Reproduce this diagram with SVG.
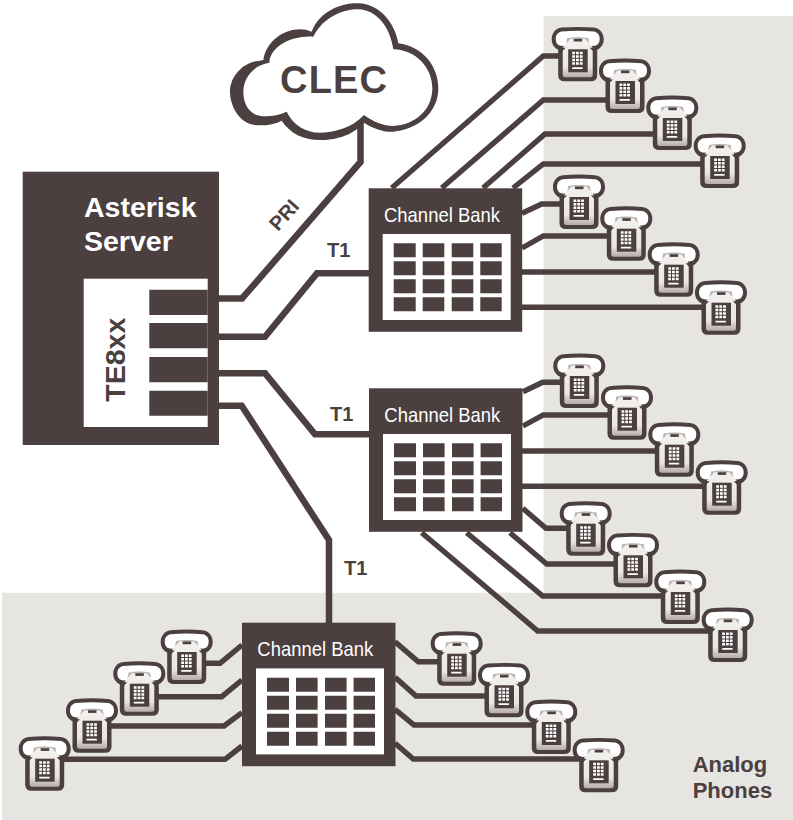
<svg xmlns="http://www.w3.org/2000/svg" width="793" height="820" viewBox="0 0 793 820" font-family="'Liberation Sans', sans-serif">
<style>
.d{fill:#4b3f3f}.w{fill:#fff}
.m{fill:none;stroke:#4b3f3f;stroke-width:6.5;stroke-linejoin:miter}
.p{fill:none;stroke:#4b3f3f;stroke-width:5.4;stroke-linejoin:miter}
.b{font-family:'Liberation Sans',sans-serif;font-weight:bold;fill:#4b3f3f}
.s{font-family:'Liberation Sans',sans-serif;font-weight:bold;fill:#fff;font-size:28.5px}
.c{font-family:'Liberation Sans',sans-serif;fill:#fff;font-size:21px}
</style>
<defs>
<linearGradient id="body" x1="0" y1="0" x2="0" y2="1"><stop offset="0" stop-color="#f4f2f0"/><stop offset=".75" stop-color="#e8e5e2"/><stop offset="1" stop-color="#b5ada8"/></linearGradient>
<g id="phone">
<path class="d" d="M10 .2C20-.6 32-.6 42 .2C48.500 1 52 6 52 12C52 17 49.500 20.500 45.500 22.500V48Q45.500 54 39 54H13Q6.500 54 6.500 48V22.500C2.500 20.500 0 17 0 12C0 6 3.500 1 10 .2Z"/>
<path fill="url(#body)" d="M17 9H35L41 20.500V47.500Q41 50 38.500 50H13.500Q11 50 11 47.500V20.500Z"/>
<path class="d" d="M5 15Q9 21 14 20.500L10.500 24ZM47 15Q43 21 38 20.500L41.500 24Z"/>
<path fill="#fff" d="M10 4.200Q26 2.800 42 4.200C46 4.800 48 8 48 11.500C48 15.500 46.500 17.500 44 18.300C41 19.300 39 18.500 38 16.500Q36.500 13 36.500 11Q26 8.800 15.500 11Q15.500 13 14 16.500C13 18.500 11 19.300 8 18.300C5.500 17.500 4 15.500 4 11.500C4 8 6 4.800 10 4.200Z"/>
<path fill="#b9b3ae" d="M15.500 11Q26 8.800 36.500 11Q36.500 13 38 16L35.500 14L33.500 11.500H18.500L16.500 14L14 16Q15.500 13 15.500 11Z"/>
<rect class="d" x="22" y="11.500" width="8.500" height="2.700"/>
<rect class="d" x="16.500" y="22" width="19.500" height="23"/>
<path fill="#fff" d="M20.500 24.500h2.800v2.500h-2.800zM24.300 24.500h2.800v2.500h-2.800zM28.100 24.500h2.800v2.500h-2.800zM20.500 28h2.800v2.500h-2.800zM24.300 28h2.800v2.500h-2.800zM28.100 28h2.800v2.500h-2.800zM20.500 31.500h2.800v2.500h-2.800zM24.300 31.500h2.800v2.500h-2.800zM28.100 31.500h2.800v2.500h-2.800zM20.500 35h2.800v2.500h-2.800zM24.300 35h2.800v2.500h-2.800zM28.100 35h2.800v2.500h-2.800zM20.500 40h10.400v1.800h-10.400z"/>
</g>
<g id="bank">
<rect class="d" x="0" y="0" width="153.500" height="143.500"/>
<rect class="w" x="14" y="45.700" width="128" height="86"/>
<path class="d" d="M25 55h22v14h-22zM54 55h21.600v14h-21.600zM83 55h21.600v14h-21.600zM111.600 55h21.400v14h-21.400zM25 73h22v14h-22zM54 73h21.600v14h-21.600zM83 73h21.600v14h-21.600zM111.600 73h21.400v14h-21.400zM25 91h22v14h-22zM54 91h21.600v14h-21.600zM83 91h21.600v14h-21.600zM111.600 91h21.400v14h-21.400zM25 109h22v14h-22zM54 109h21.600v14h-21.600zM83 109h21.600v14h-21.600zM111.600 109h21.400v14h-21.400z"/>
</g>
</defs>
<path id="phones-area" fill="#e6e5e1" d="M543.500 16H793V820H2V592.700H543.500Z"/>
<g id="connectors">
<path class="m" d="M219 298.500H242L360.500 162V120"/>
<path class="m" d="M219 336.700H265L317 273.300H369"/>
<path class="m" d="M219 373.300H265L315 434.300H369"/>
<path class="m" d="M219 405.700H241.700L329 540V623"/>
<path class="p" d="M391.700 188L543.300 56H575"/>
<path class="p" d="M441.700 188L543.300 100H610"/>
<path class="p" d="M483 188L545 134H655"/>
<path class="p" d="M513 188L543.300 164H705"/>
<path class="p" d="M522 213.300L541.700 204H560"/>
<path class="p" d="M522 248L543.300 236H610"/>
<path class="p" d="M522 272H655"/>
<path class="p" d="M522 307.300H705"/>
<path class="p" d="M523 391.700L542.700 382.300H565"/>
<path class="p" d="M523 426L543.300 415H610"/>
<path class="p" d="M522 451H655"/>
<path class="p" d="M522 486.300H705"/>
<path class="p" d="M522.700 508.300L546 528.300H570"/>
<path class="p" d="M510 532.700L546.700 564H620"/>
<path class="p" d="M466.700 532.700L542.700 596H665"/>
<path class="p" d="M421.700 532.700L537.700 631H710"/>
<path class="p" d="M242 645L220 663.300H205"/>
<path class="p" d="M242 680L221.700 696.700H155"/>
<path class="p" d="M242 712.700L224 726H110"/>
<path class="p" d="M242 746L225 759.300H60"/>
<path class="p" d="M395 641.700L418.300 661.700H445"/>
<path class="p" d="M395 677.300L416 696H490"/>
<path class="p" d="M395 709.300L414 725H535"/>
<path class="p" d="M395 743.300L413.300 759H585"/>
</g>
<g id="clec-cloud">
<g transform="translate(220 0) scale(.33333)">
<path class="d" d="M130 180C140 110 220 70 275 95C300 30 370 8 415 10C480 12 525 70 535 130C610 140 655 200 655 265C655 340 590 390 520 395C490 397 460 385 432 368C395 410 340 420 300 420C250 420 210 400 185 362C160 375 130 378 105 375C60 370 30 320 30 275C30 225 75 185 115 183Z"/>
<path class="w" d="M148 188C150 140 215 105 280 110C310 50 370 28 415 28C470 30 510 80 520 148C590 150 637 205 637 265C637 330 585 375 520 378C490 378 460 365 432 345C395 385 340 398 300 398C255 398 220 375 200 335C170 350 130 352 110 345C85 335 70 310 70 275C70 235 100 195 148 188Z"/>
</g>
<text class="b" x="280" y="93.300" font-size="38" textLength="107" lengthAdjust="spacing">CLEC</text>
</g>
<g id="asterisk-server">
<rect class="d" x="22.700" y="171.700" width="196.300" height="273.300"/>
<rect class="w" x="83.700" y="278.700" width="124" height="148.300"/>
<path class="d" d="M149.300 289.700H207.700V315H149.300ZM149.300 323H207.700V348.300H149.300ZM149.300 357H207.700V382.300H149.300ZM149.300 390.700H207.700V415.700H149.300Z"/>
<text class="s" x="84" y="217.300">Asterisk</text>
<text class="s" x="84" y="251">Server</text>
<text class="b" font-size="28.500" transform="translate(125 401.700) rotate(-90)">TE8xx</text>
</g>
<g id="channel-bank-1" transform="translate(368.700 188.300)"><use href="#bank"/><text class="c" x="15.300" y="33.400" textLength="116" lengthAdjust="spacingAndGlyphs">Channel Bank</text></g>
<g id="channel-bank-2" transform="translate(369 388.300)"><use href="#bank"/><text class="c" x="15.300" y="33.400" textLength="116" lengthAdjust="spacingAndGlyphs">Channel Bank</text></g>
<g id="channel-bank-3" transform="translate(242 622.700)"><use href="#bank"/><text class="c" x="15.300" y="33.400" textLength="116" lengthAdjust="spacingAndGlyphs">Channel Bank</text></g>
<g id="phone-1" transform="translate(551.700 27.300)"><use href="#phone"/></g>
<g id="phone-2" transform="translate(599 59)"><use href="#phone"/></g>
<g id="phone-3" transform="translate(646.300 96)"><use href="#phone"/></g>
<g id="phone-4" transform="translate(693.700 134)"><use href="#phone"/></g>
<g id="phone-5" transform="translate(553 175)"><use href="#phone"/></g>
<g id="phone-6" transform="translate(600.300 206.700)"><use href="#phone"/></g>
<g id="phone-7" transform="translate(647.700 242.700)"><use href="#phone"/></g>
<g id="phone-8" transform="translate(695 280.700)"><use href="#phone"/></g>
<g id="phone-9" transform="translate(553.300 354)"><use href="#phone"/></g>
<g id="phone-10" transform="translate(601 385.700)"><use href="#phone"/></g>
<g id="phone-11" transform="translate(648.300 422.700)"><use href="#phone"/></g>
<g id="phone-12" transform="translate(695.700 460.700)"><use href="#phone"/></g>
<g id="phone-13" transform="translate(559.700 501.700)"><use href="#phone"/></g>
<g id="phone-14" transform="translate(607 533.300)"><use href="#phone"/></g>
<g id="phone-15" transform="translate(654.300 570)"><use href="#phone"/></g>
<g id="phone-16" transform="translate(701.700 608)"><use href="#phone"/></g>
<g id="phone-17" transform="translate(160.700 630)"><use href="#phone"/></g>
<g id="phone-18" transform="translate(113.300 661.700)"><use href="#phone"/></g>
<g id="phone-19" transform="translate(66 698.700)"><use href="#phone"/></g>
<g id="phone-20" transform="translate(18.700 736.700)"><use href="#phone"/></g>
<g id="phone-21" transform="translate(430.700 631.700)"><use href="#phone"/></g>
<g id="phone-22" transform="translate(478 663.300)"><use href="#phone"/></g>
<g id="phone-23" transform="translate(525.300 700)"><use href="#phone"/></g>
<g id="phone-24" transform="translate(572.700 738.300)"><use href="#phone"/></g>
<g id="labels">
<text class="b" font-size="20" transform="translate(278 232) rotate(-48)">PRI</text>
<text class="b" font-size="20" x="327" y="257">T1</text>
<text class="b" font-size="20" x="330" y="421">T1</text>
<text class="b" font-size="20" x="344" y="575">T1</text>
<text class="b" font-size="22" x="692.700" y="771.700">Analog</text>
<text class="b" font-size="22" x="692.700" y="797.700">Phones</text>
</g>
</svg>
